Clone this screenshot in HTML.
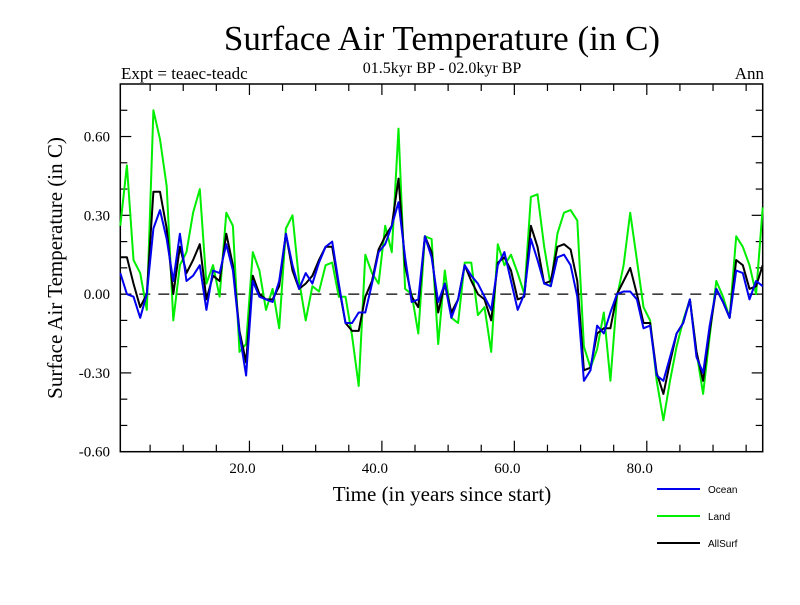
<!DOCTYPE html>
<html><head><meta charset="utf-8"><style>
body{margin:0;background:#fff;}
svg text{font-family:"Liberation Serif",serif;fill:#000;}
</style></head><body>
<svg id="chart" width="800" height="600" xmlns="http://www.w3.org/2000/svg">
<text x="442" y="50" font-size="35" text-anchor="middle">Surface Air Temperature (in C)</text>
<text x="442" y="73" font-size="16" text-anchor="middle">01.5kyr BP - 02.0kyr BP</text>
<text x="121" y="79" font-size="17">Expt = teaec-teadc</text>
<text x="764" y="79" font-size="17" text-anchor="end">Ann</text>
<text transform="translate(62,268) rotate(-90)" font-size="21" text-anchor="middle">Surface Air Temperature (in C)</text>
<text x="442" y="501" font-size="21" text-anchor="middle">Time (in years since start)</text>
<g id="axes"></g>
<g id="series"></g>
<g id="legend"></g>
</svg>
<script>
const years = [];
for (let i = 0; i < 98; i++) years.push(i + 0.5);
const ocean = [0.08,0.0,-0.01,-0.09,0.0,0.25,0.32,0.21,0.05,0.23,0.05,0.07,0.11,-0.06,0.09,0.08,0.19,0.09,-0.15,-0.31,0.05,-0.01,-0.02,-0.03,0.05,
0.23,0.11,0.02,0.08,0.04,0.12,0.18,0.20,0.04,-0.11,-0.11,-0.07,-0.07,0.04,0.16,0.19,0.26,0.35,0.14,-0.03,-0.02,0.22,0.14,-0.03,0.04,
-0.09,-0.02,0.11,0.07,0.04,-0.01,-0.06,0.11,0.16,0.05,-0.06,0.0,0.21,0.13,0.04,0.03,0.14,0.15,0.11,-0.01,-0.33,-0.29,-0.12,-0.15,
-0.07,0.0,0.01,0.01,-0.02,-0.13,-0.12,-0.31,-0.33,-0.24,-0.15,-0.11,-0.02,-0.24,-0.30,-0.12,0.02,-0.03,-0.09,0.09,0.08,-0.02,0.05,0.03];
const land = [0.26,0.49,0.13,0.08,-0.06,0.70,0.59,0.41,-0.10,0.11,0.16,0.31,0.40,0.04,0.11,-0.01,0.31,0.26,-0.22,-0.19,0.16,0.09,-0.06,0.02,-0.13,
0.25,0.30,0.05,-0.10,0.03,0.01,0.11,0.12,-0.01,-0.01,-0.16,-0.35,0.15,0.08,0.04,0.26,0.16,0.63,0.02,0.0,-0.15,0.22,0.21,-0.19,0.09,
-0.09,-0.11,0.12,0.12,-0.08,-0.05,-0.22,0.19,0.11,0.15,0.08,0.0,0.37,0.38,0.18,0.03,0.23,0.31,0.32,0.28,-0.20,-0.28,-0.21,-0.07,
-0.33,-0.01,0.11,0.31,0.13,-0.05,-0.10,-0.33,-0.48,-0.33,-0.20,-0.10,-0.02,-0.22,-0.38,-0.16,0.05,-0.01,-0.09,0.22,0.18,0.11,0.0,0.33];
const allsurf = [0.14,0.14,0.04,-0.05,0.0,0.39,0.39,0.25,0.0,0.18,0.08,0.13,0.19,-0.02,0.07,0.05,0.23,0.11,-0.14,-0.26,0.07,0.0,-0.02,-0.02,0.03,
0.23,0.09,0.02,0.04,0.07,0.13,0.18,0.18,0.03,-0.11,-0.14,-0.14,-0.01,0.05,0.17,0.22,0.26,0.44,0.11,-0.01,-0.05,0.22,0.16,-0.07,0.04,
-0.07,-0.02,0.11,0.05,0.0,-0.02,-0.10,0.12,0.14,0.09,-0.02,-0.01,0.26,0.18,0.04,0.05,0.18,0.19,0.17,0.05,-0.29,-0.28,-0.15,-0.13,
-0.13,0.0,0.05,0.10,0.0,-0.11,-0.11,-0.30,-0.38,-0.26,-0.15,-0.11,-0.02,-0.22,-0.33,-0.14,0.02,-0.03,-0.09,0.13,0.11,0.02,0.03,0.11];
const yTicks = [-0.6,-0.3,0.0,0.3,0.6];
const yTickLabels = ["-0.60","-0.30","0.00","0.30","0.60"];
const xTicks = [20,40,60,80];
const xTickLabels = ["20.0","40.0","60.0","80.0"];
const seriesNames = ["Ocean","Land","AllSurf"];

const L=120.3,R=762.7,T=84,B=451.7,XMIN=0.5,XMAX=97.5,YMIN=-0.6,YMAX=0.8;
const sx=v=>L+(v-XMIN)/(XMAX-XMIN)*(R-L);
const sy=v=>B-(v-YMIN)/(YMAX-YMIN)*(B-T);
const NS="http://www.w3.org/2000/svg";
function mk(tag,attrs,parent){const e=document.createElementNS(NS,tag);for(const k in attrs)e.setAttribute(k,attrs[k]);parent.appendChild(e);return e;}
const axes=document.getElementById('axes');
const frame=mk('rect',{x:L,y:T,width:R-L,height:B-T,fill:'none',stroke:'#000','stroke-width':1.5},axes);


for(let v=5;v<XMAX;v+=5){
  const len=(v%20===0)?11:7;const x=sx(v);
  const t1=mk('line',{x1:x,y1:B,x2:x,y2:B-len,stroke:'#000','stroke-width':1.2},axes);
  
  
  const t2=mk('line',{x1:x,y1:T,x2:x,y2:T+len,stroke:'#000','stroke-width':1.2},axes);
  
  
}
xTicks.forEach((v,i)=>{
  const t=mk('text',{x:sx(v)-7,y:473,'font-size':15,'text-anchor':'middle'},axes);t.textContent=xTickLabels[i];
  
  
});
for(let k=-5;k<=7;k++){
  const v=k/10;const y=sy(v);const len=(k%3===0)?11:7;
  const t1=mk('line',{x1:L,y1:y,x2:L+len,y2:y,stroke:'#000','stroke-width':1.2},axes);
  
  
  const t2=mk('line',{x1:R,y1:y,x2:R-len,y2:y,stroke:'#000','stroke-width':1.2},axes);
  
  
}
yTicks.forEach((v,i)=>{
  const t=mk('text',{x:110,y:sy(v)+5,'font-size':15,'text-anchor':'end'},axes);t.textContent=yTickLabels[i];
  
  
});
const zero=mk('line',{x1:L,y1:sy(0),x2:R,y2:sy(0),stroke:'#000','stroke-width':1.2,'stroke-dasharray':'11,8'},axes);



const ser=document.getElementById('series');
const datasets=[[land,'#00ee00','land-line'],[allsurf,'#000000','allsurf-line'],[ocean,'#0000ee','ocean-line']];
datasets.forEach(d=>{
  const pts=d[0].map((v,i)=>sx(years[i]).toFixed(1)+','+sy(v).toFixed(1)).join(' ');
  const p=mk('polyline',{points:pts,fill:'none',stroke:d[1],'stroke-width':2,'stroke-linejoin':'round'},ser);
  
  
});
const leg=document.getElementById('legend');
const legColors=['#0000ee','#00ee00','#000000'];
seriesNames.forEach((n,i)=>{
  const y=489+i*27;
  const g=mk('g',{},leg);
  
  
  mk('line',{x1:657,y1:y,x2:700,y2:y,stroke:legColors[i],'stroke-width':2},g);
  const t=mk('text',{x:708,y:y+4,'font-size':10},g);
  t.setAttribute('style','font-family:"Liberation Sans",sans-serif');
  t.textContent=n;
});
</script>
</body></html>
